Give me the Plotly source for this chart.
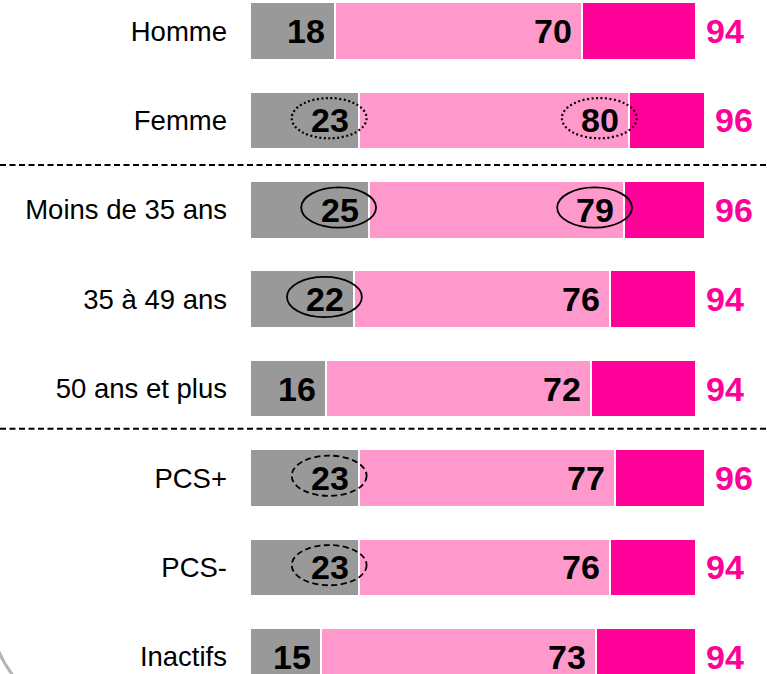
import plotly.graph_objects as go

# ---- data ----
categories = ["Homme", "Femme", "Moins de 35 ans", "35 à 49 ans",
              "50 ans et plus", "PCS+", "PCS-", "Inactifs"]
level1 = [18, 23, 25, 22, 16, 23, 23, 15]      # grey segment (cumulative)
level2 = [70, 80, 79, 76, 72, 77, 76, 73]      # light pink end (cumulative)
total = [94, 96, 96, 94, 94, 96, 94, 94]       # magenta end (total)

# highlighted values: (category index, series name)
highlights_dotted = [(1, "level1"), (1, "level2")]
highlights_solid = [(2, "level1"), (2, "level2"), (3, "level1")]
highlights_dashed = [(5, "level1"), (6, "level1")]

# ---- styles ----
GREY = "#999999"
PINK = "#FF99CC"
MAGENTA = "#FF0099"
FONT = "Liberation Sans, Arial, sans-serif"

W, H = 767, 674
ML = 250
PX_PER_UNIT = 4.74
ROW0_PX = 31.0
ROW_PITCH = 89.4

xmax = (W - ML) / PX_PER_UNIT
y_top = -ROW0_PX / ROW_PITCH
y_bot = (H - ROW0_PX) / ROW_PITCH

ypos = list(range(len(categories)))
seg1 = level1
seg2 = [b - a for a, b in zip(level1, level2)]
seg3 = [c - b for b, c in zip(level2, total)]

fig = go.Figure()
for vals, col in [(seg1, GREY), (seg2, PINK), (seg3, MAGENTA)]:
    fig.add_trace(go.Bar(
        y=ypos, x=vals, orientation="h", width=0.645,
        marker=dict(color=col, line=dict(color="white", width=2.5)),
        hoverinfo="skip", showlegend=False,
    ))

annotations = []
for i in ypos:
    for v in (level1[i], level2[i]):
        annotations.append(dict(
            x=v, y=i, xref="x", yref="y", text=f"<b>{v}</b>",
            showarrow=False, xanchor="right", yanchor="middle", xshift=-8,
            font=dict(family=FONT, size=34, color="black"),
        ))
    annotations.append(dict(
        x=total[i], y=i, xref="x", yref="y", text=f"<b>{total[i]}</b>",
        showarrow=False, xanchor="left", yanchor="middle", xshift=8,
        font=dict(family=FONT, size=34, color=MAGENTA),
    ))

shapes = []
series = {"level1": level1, "level2": level2}
ell_w = 15.8
ell_h = 0.45
for group, dash, lw in [(highlights_dotted, "2px,2.5px", 2.2),
                        (highlights_solid, "solid", 1.8),
                        (highlights_dashed, "6px,3.5px", 1.8)]:
    for (i, name) in group:
        v = series[name][i]
        cx = v - 6.3
        cy = i - 0.025
        shapes.append(dict(
            type="circle", xref="x", yref="y",
            x0=cx - ell_w / 2, x1=cx + ell_w / 2,
            y0=cy - ell_h / 2, y1=cy + ell_h / 2,
            line=dict(color="black", width=lw, dash=dash),
        ))

# dashed group separators
for ysep in (1.5, 4.45):
    shapes.append(dict(
        type="line", xref="paper", yref="y",
        x0=-ML / (W - ML), x1=1, y0=ysep, y1=ysep,
        line=dict(color="black", width=2, dash="6px,3.5px"),
    ))

# grey arc fragment at bottom-left corner
def px(xp, yp):
    return f"{(xp - ML) / (W - ML):.5f},{1 - yp / H:.5f}"

shapes.append(dict(
    type="path", xref="paper", yref="paper",
    path=f"M {px(-2, 650)} Q {px(4, 664)} {px(14, 677)}",
    line=dict(color="#b3b3b3", width=3),
))

fig.update_layout(
    width=W, height=H,
    margin=dict(l=ML, r=0, t=0, b=0, autoexpand=False),
    barmode="stack", bargap=0,
    plot_bgcolor="white", paper_bgcolor="white",
    xaxis=dict(range=[0, xmax], visible=False, fixedrange=True,
               automargin=False),
    yaxis=dict(range=[y_bot, y_top], tickvals=ypos, ticktext=categories,
               showgrid=False, zeroline=False, showline=False, ticks="",
               ticklabelstandoff=22, automargin=False,
               tickfont=dict(family=FONT, size=27.5, color="black")),
    shapes=shapes, annotations=annotations,
)

fig.write_html(
    "out.html",
    config={"displayModeBar": False},
    post_script="document.body.style.margin='0';"
                "document.body.style.overflow='hidden';"
                "document.documentElement.style.overflow='hidden';",
)
